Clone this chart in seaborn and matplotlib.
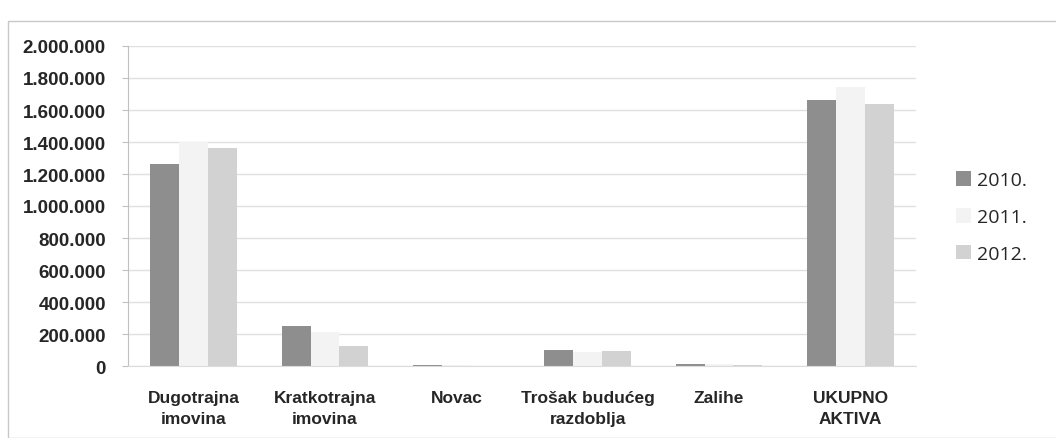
import pandas as pd
import matplotlib
matplotlib.use("Agg")
import matplotlib.pyplot as plt
import matplotlib.patches as mpatches
from matplotlib.ticker import FuncFormatter, MultipleLocator
import seaborn as sns

# Podaci (ocitano s grafikona)
kategorije = ["Dugotrajna\nimovina", "Kratkotrajna\nimovina", "Novac",
              "Trošak budućeg\nrazdoblja", "Zalihe", "UKUPNO\nAKTIVA"]
godine = ["2010.", "2011.", "2012."]
v2010 = [1265000, 252000, 5000, 98000, 12000, 1662000]
v2011 = [1400000, 210000, 8000, 90000, 10000, 1742000]
v2012 = [1362000, 125000, 3000, 95000, 8000, 1637000]
boje = ["#8e8e8e", "#f3f3f3", "#d2d2d2"]

rows = []
for g, vals in zip(godine, [v2010, v2011, v2012]):
    for k, v in zip(kategorije, vals):
        rows.append({"Kategorija": k, "Godina": g, "Iznos": v})
df = pd.DataFrame(rows)

sns.set_style("white")
plt.rcParams["font.family"] = ["Liberation Sans Narrow", "Liberation Sans", "DejaVu Sans"]

fig = plt.figure(figsize=(10.56, 4.39), dpi=100)
ax = fig.add_axes([128 / 1056, 1 - 367 / 439, (916 - 128) / 1056, (367 - 47) / 439])

# okvir oko cijelog grafikona
fig.patches.append(mpatches.Rectangle((8 / 1056, 0.0), 1.2, 1 - 22 / 439,
                                      transform=fig.transFigure, fill=False,
                                      edgecolor="#c8c8c8", linewidth=1.0))

sns.barplot(data=df, x="Kategorija", y="Iznos", hue="Godina", palette=boje,
            width=0.66, ax=ax, legend=False, saturation=1)
for p in ax.patches:
    p.set_edgecolor("none")

ax.set_ylim(0, 2000000)
ax.yaxis.set_major_locator(MultipleLocator(200000))
ax.yaxis.set_major_formatter(FuncFormatter(lambda v, pos: f"{int(v):,}".replace(",", ".")))
ax.grid(axis="y", color="#e0e0e0", linewidth=1.0)
ax.set_axisbelow(True)
ax.set_xlabel("")
ax.set_ylabel("")

for s in ["top", "right"]:
    ax.spines[s].set_visible(False)
ax.spines["left"].set_color("#c0c0c0")
ax.spines["bottom"].set_color("#dcdcdc")

ax.tick_params(axis="y", labelsize=13.5, length=4, color="#c0c0c0", pad=12, left=True)
ax.tick_params(axis="x", labelsize=12.5, length=0, pad=17)
for lbl in ax.get_yticklabels() + ax.get_xticklabels():
    lbl.set_fontweight("bold")
    lbl.set_color("#262626")
for lbl in ax.get_xticklabels():
    lbl.set_linespacing(1.5)

handles = [mpatches.Patch(facecolor=c, edgecolor="none", label=g) for g, c in zip(godine, boje)]
fig.legend(handles=handles, loc="center left", bbox_to_anchor=(938 / 1056, 1 - 218 / 439),
           frameon=False, handlelength=0.8, handleheight=0.8,
           handletextpad=0.3, labelspacing=0.95,
           prop={"family": ["Open Sans", "DejaVu Sans"], "size": 14})

fig.savefig("out.png", dpi=100)
